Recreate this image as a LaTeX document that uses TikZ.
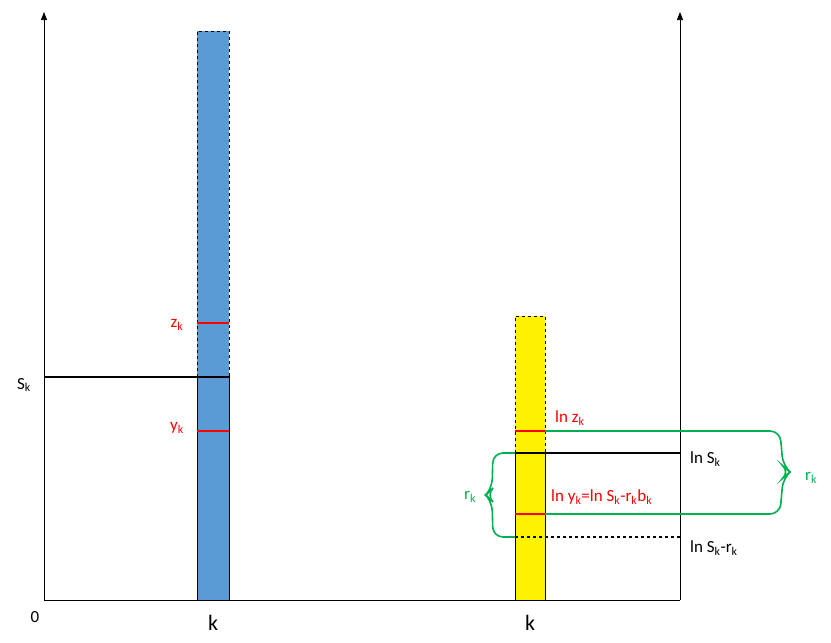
\documentclass[tikz,border=0pt]{standalone}
\usepackage{fontspec}
\setmainfont{Carlito}
\usetikzlibrary{arrows.meta}
\begin{document}
\begin{tikzpicture}[x=1pt,y=-1pt,
 lab/.style={font=\fontsize{17}{19}\selectfont,inner sep=0pt},
 red lab/.style={lab,text=red},
 grn lab/.style={lab,text=brgreen},
 redline/.style={red,line width=1.5pt},
 axis/.style={line width=0.6pt,-{Triangle[length=8pt,width=6pt]}}]
\definecolor{brgreen}{RGB}{0,176,80}
\definecolor{barblue}{RGB}{91,155,213}
\useasboundingbox (0,0) rectangle (831,643);
% bars
\fill[barblue] (197,31) rectangle (229,600);
\draw[dashed,line width=0.8pt] (197,377) -- (197,31) -- (229,31) -- (229,377);
\draw[line width=0.8pt] (197,377) -- (197,600) (229,377) -- (229,600);
\fill[yellow] (515,316) rectangle (545,600);
\draw[dashed,line width=0.8pt] (515,453) -- (515,316) -- (545,316) -- (545,453);
\draw[line width=0.8pt] (515,453) -- (515,600) (545,453) -- (545,600);
% axes
\coordinate (o) at (44,600);
\coordinate (lt) at (44,12);
\coordinate (br) at (680,600);
\coordinate (rt) at (680,12);
\draw[axis] (o) -- (lt);
\draw[axis] (br) -- (rt);
\draw[line width=0.6pt] (o) -- (br);
% left lines
\draw[redline] (197,323) -- (229,323);
\draw[redline] (197,431) -- (229,431);
\draw[line width=2pt] (44,377) -- (230,377);
\node[lab] (sk) at (24,385) {S\textsubscript{k}};
\node[red lab] (zk) at (177,325) {z\textsubscript{k}};
\node[red lab] (yk) at (177,428) {y\textsubscript{k}};
\node[lab] (zero) at (35,617) {0};
\node[lab] (k1) at (213,623) {\fontsize{22}{24}\selectfont k};
\node[lab] (k2) at (530,623) {\fontsize{22}{24}\selectfont k};
% right lines
\draw[brgreen,line width=1.6pt,rounded corners=10pt] (545,431) -- (780,431) -- (783,466) -- (790,472) -- (783,478) -- (780,514) -- (545,514);
\draw[brgreen,line width=1.6pt,rounded corners=10pt] (515,453) -- (493,453) -- (492,489) -- (486,495) -- (492,501) -- (493,537) -- (515,537);
\draw[redline] (515,431) -- (545,431);
\draw[redline] (515,514) -- (545,514);
\draw[line width=1.3pt] (515,453) -- (680,453);
\draw[dashed,line width=1.3pt] (515,537) -- (680,537);
\node[red lab,anchor=west] (lnz) at (555,418) {ln z\textsubscript{k}};
\node[lab,anchor=west] (lns) at (690,459) {ln S\textsubscript{k}};
\node[red lab,anchor=west] (lny) at (551,497) {ln y\textsubscript{k}=ln S\textsubscript{k}-r\textsubscript{k}b\textsubscript{k}};
\node[lab,anchor=west] (lnsr) at (690,548) {ln S\textsubscript{k}-r\textsubscript{k}};
\node[grn lab] (r1) at (470,497) {r\textsubscript{k}};
\node[grn lab] (r2) at (811,478) {r\textsubscript{k}};
\end{tikzpicture}
\end{document}
